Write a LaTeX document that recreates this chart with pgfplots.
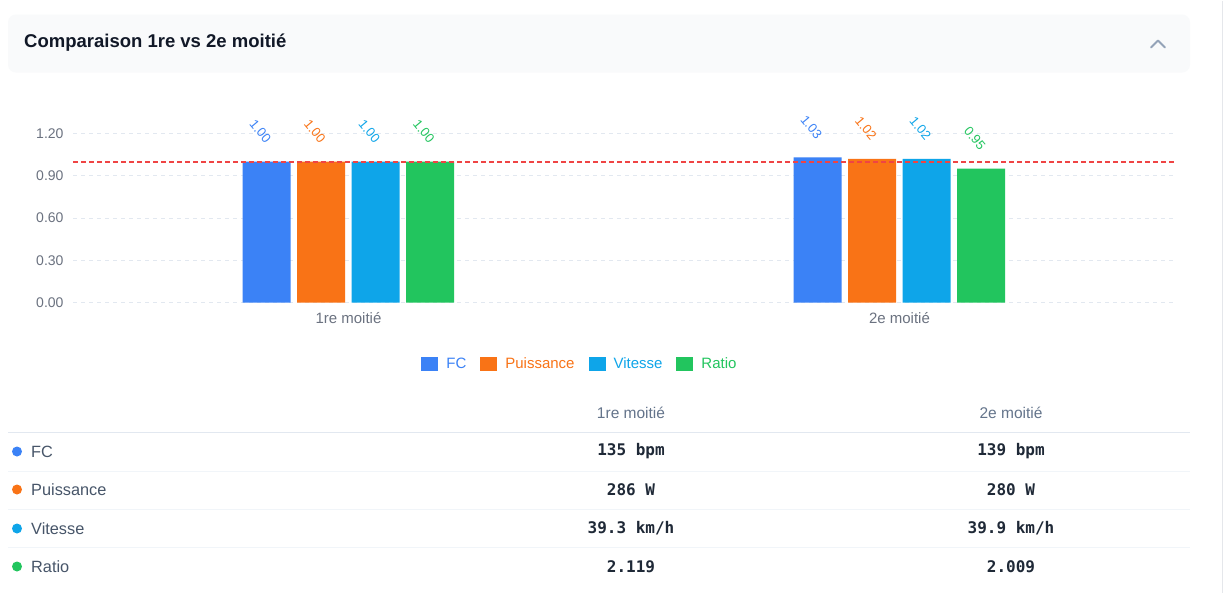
\documentclass[border=0pt]{standalone}
\usepackage{pgfplots}
\pgfplotsset{compat=1.18}
\usepackage{fontspec}
\setmainfont{Liberation Sans}
\setmonofont{DejaVu Sans Mono}
\definecolor{cFC}{HTML}{3B82F6}
\definecolor{cPU}{HTML}{F97316}
\definecolor{cVI}{HTML}{0EA5E9}
\definecolor{cRA}{HTML}{22C55E}
\definecolor{dashRed}{RGB}{239,68,68}
\definecolor{gridC}{HTML}{E2E8F0}
\definecolor{tickC}{HTML}{6B7280}
\definecolor{headC}{HTML}{64748B}
\definecolor{rowC}{HTML}{475569}
\definecolor{valC}{HTML}{1F2937}
\definecolor{titleC}{HTML}{111827}
\definecolor{cardC}{HTML}{F9FAFB}
\definecolor{chevC}{HTML}{94A3B8}
\definecolor{sepC}{HTML}{F1F5F9}
\definecolor{edgeC}{HTML}{E5E7EB}
\begin{document}
\begin{tikzpicture}
\fill[white] (0,0) rectangle (1224bp,-592bp);
\draw[edgeC, line width=1bp] (1222bp,0) -- (1222bp,-592bp);
\fill[cardC, rounded corners=8bp] (8bp,-14bp) rectangle (1190bp,-72bp);
\node[anchor=west, inner sep=0, font=\fontsize{18.5bp}{22bp}\selectfont\bfseries, text=titleC] at (24bp,-42bp) {Comparaison 1re vs 2e moitié};
\draw[chevC, line width=2bp, line cap=round, line join=round] (1151bp,-47bp) -- (1158bp,-40bp) -- (1165bp,-47bp);

\begin{axis}[
  at={(73bp,-302bp)}, anchor=south west,
  width=1102bp, height=169bp, scale only axis,
  xmin=-0.5, xmax=1.5, ymin=0, ymax=1.2,
  ybar=6.5bp, bar width=48bp,
  /pgf/number format/assume math mode=true,
  axis line style={draw=none}, tick style={draw=none}, major tick length=0pt,
  xtick={0,1}, xticklabels={1re moitié, 2e moitié},
  ytick={0,0.3,0.6,0.9,1.2},
  yticklabel style={font=\fontsize{14bp}{16bp}\selectfont, text=tickC, xshift=-6bp,
    /pgf/number format/fixed, /pgf/number format/fixed zerofill, /pgf/number format/precision=2},
  xticklabel style={font=\fontsize{15bp}{17bp}\selectfont, text=tickC, yshift=-6bp},
  ymajorgrids, grid style={gridC, line width=1bp, dash pattern=on 4bp off 4bp},
  every node near coord/.append style={font=\fontsize{13bp}{15bp}\selectfont, anchor=east, xshift=4bp, yshift=18bp, rotate=-50,
    /pgf/number format/fixed, /pgf/number format/fixed zerofill, /pgf/number format/precision=2},
  legend image code/.code={\fill[#1] (0bp,-7bp) rectangle (17bp,7bp); \path (23bp,0bp);},
  legend style={at={(rel axis cs:0.46,-0.361)}, anchor=center, draw=none, fill=none,
    legend columns=4, font=\fontsize{15bp}{17bp}\selectfont,
    /tikz/every even column/.append style={column sep=12bp}},
]
\addplot[fill=cFC, draw=none, nodes near coords, every node near coord/.append style={text=cFC}] coordinates {(0,1.00) (1,1.03)};
\addlegendentry{\textcolor{cFC}{FC}}
\addplot[fill=cPU, draw=none, nodes near coords, every node near coord/.append style={text=cPU}] coordinates {(0,1.00) (1,1.02)};
\addlegendentry{\textcolor{cPU}{Puissance}}
\addplot[fill=cVI, draw=none, nodes near coords, every node near coord/.append style={text=cVI}] coordinates {(0,1.00) (1,1.02)};
\addlegendentry{\textcolor{cVI}{Vitesse}}
\addplot[fill=cRA, draw=none, nodes near coords, every node near coord/.append style={text=cRA}] coordinates {(0,1.00) (1,0.95)};
\addlegendentry{\textcolor{cRA}{Ratio}}
\end{axis}

% reference line at 1.0
\begin{axis}[
  at={(73bp,-302bp)}, anchor=south west,
  width=1102bp, height=169bp, scale only axis,
  xmin=-0.5, xmax=1.5, ymin=0, ymax=1.2,
  hide axis,
]
\addplot[color=dashRed, draw=dashRed, line width=1.8bp, dash pattern=on 5bp off 3bp, mark=none] coordinates {(-0.5,1) (1.5,1)};
\end{axis}

% table
\node[font=\fontsize{15.5bp}{18bp}\selectfont, text=headC] at (631bp,-412bp) {1re moitié};
\node[font=\fontsize{15.5bp}{18bp}\selectfont, text=headC] at (1011bp,-412bp) {2e moitié};
\draw[gridC, line width=1bp] (8bp,-432bp) -- (1190bp,-432bp);
\draw[sepC, line width=1bp] (8bp,-470.5bp) -- (1190bp,-470.5bp);
\draw[sepC, line width=1bp] (8bp,-508.5bp) -- (1190bp,-508.5bp);
\draw[sepC, line width=1bp] (8bp,-547bp) -- (1190bp,-547bp);
\fill[cFC] (17bp,-451bp) circle (5bp);
\fill[cPU] (17bp,-489bp) circle (5bp);
\fill[cVI] (17bp,-528bp) circle (5bp);
\fill[cRA] (17bp,-566bp) circle (5bp);
\begin{scope}[every node/.style={font=\fontsize{16.3bp}{19bp}\selectfont, text=rowC, anchor=west, inner sep=0}]
\node at (31bp,-451bp) {FC};
\node at (31bp,-489bp) {Puissance};
\node at (31bp,-528bp) {Vitesse};
\node at (31bp,-566bp) {Ratio};
\end{scope}
\begin{scope}[every node/.style={font=\fontsize{16bp}{19bp}\selectfont\ttfamily\bfseries, text=valC}]
\node at (631bp,-451bp) {135 bpm};
\node at (1011bp,-451bp) {139 bpm};
\node at (631bp,-489bp) {286 W};
\node at (1011bp,-489bp) {280 W};
\node at (631bp,-528bp) {39.3 km/h};
\node at (1011bp,-528bp) {39.9 km/h};
\node at (631bp,-566bp) {2.119};
\node at (1011bp,-566bp) {2.009};
\end{scope}
\end{tikzpicture}
\end{document}
